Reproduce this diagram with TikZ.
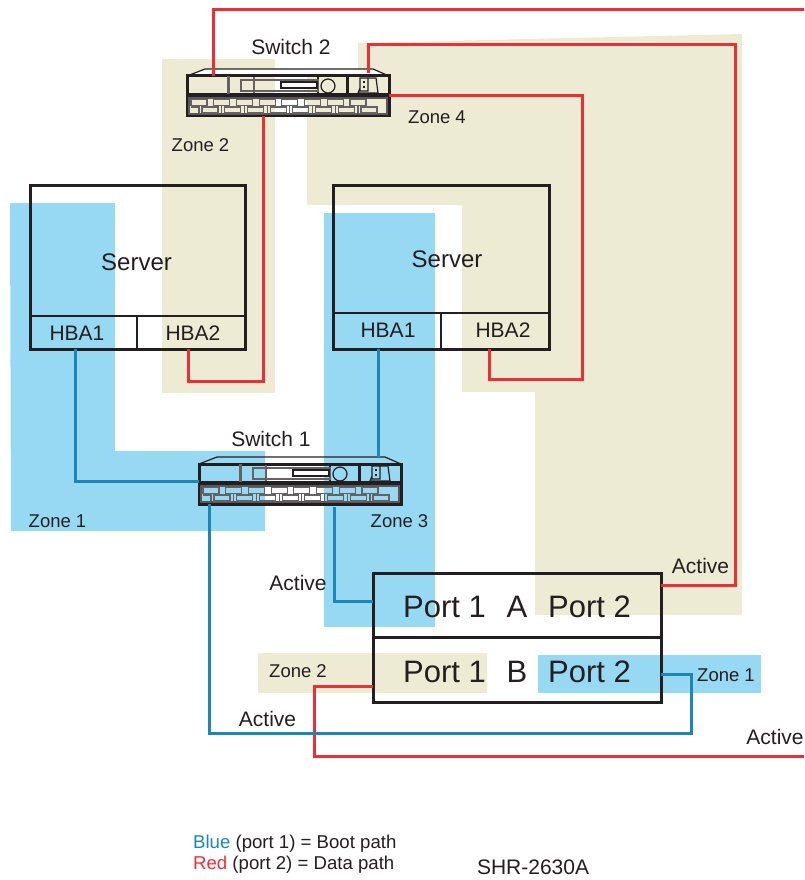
\documentclass[tikz,border=0pt]{standalone}
\usepackage{fontspec}
\setmainfont{Liberation Sans}
\usetikzlibrary{positioning}
\definecolor{zonetan}{HTML}{EEEBD4}
\definecolor{zonesky}{HTML}{97D9F2}
\definecolor{wirered}{HTML}{EE2E36}
\definecolor{wireblue}{HTML}{1C86B9}
\definecolor{inkdark}{HTML}{231F20}

\begin{document}
\begin{tikzpicture}[x=1pt,y=-1pt,color=inkdark,text=inkdark]
\tikzset{lbl/.style ={font=\fontsize{21}{24}\selectfont,inner sep=0pt,outer sep=0pt}}
\tikzset{zonelbl/.style ={font=\fontsize{18.5}{22}\selectfont,inner sep=0pt}}
\tikzset{portlbl/.style ={font=\fontsize{31}{36}\selectfont,inner sep=0pt}}
\tikzset{legendlbl/.style ={font=\fontsize{18.6}{22}\selectfont,inner sep=0pt}}
\tikzset{srvlbl/.style ={font=\fontsize{24}{28}\selectfont,inner sep=0pt}}
\tikzset{hbacell/.style ={lbl,minimum height=32pt}}
\tikzset{frame/.style ={draw,line width=3pt,inner sep=0pt,outer sep=0pt}}
\tikzset{swnode/.style ={inner sep=0pt,outer sep=0pt,minimum width=202pt,minimum height=40pt}}
\tikzset{redwire/.style ={draw=wirered,line width=3pt}}
\tikzset{bluewire/.style ={draw=wireblue,line width=3pt}}
\tikzset{switchbody/.pic={
    \draw[line width=1.2pt] (-101,-20) -- (-83,-27) -- (85,-27) -- (101,-20);
    \draw[line width=3pt] (-101,-20) rectangle (101,20);
    \draw[line width=3.6pt] (-101,-1) -- (101,-1);
    \draw[line width=1.2pt,draw=inkdark!75] (-99,2) rectangle (99,18);
    \draw[line width=3pt,draw=inkdark!70] (-60,-20) -- (-60,-2);
    \draw[line width=3pt] (59,-20) -- (59,-2);
    \draw[line width=2pt] (30,-20) -- (30,-2);
    \draw[line width=1.2pt,draw=inkdark!70] (-34,-19) -- (-34,-3) (-47,-16) rectangle (30,-5);
    \draw[line width=1.6pt,fill=white] (-7,-14) rectangle (29,-8);
    \draw[line width=1.2pt] (40,-10) circle (7);
    \draw[line width=1.2pt] (72,-18) rectangle (80,-5) (80,-18) -- (88,-18) -- (90,-3) -- (70,-3) -- (72,-8);
    \draw[line width=1.2pt] (75,-14) -- (77,-14) (75,-9) -- (77,-9);
    \foreach \i in {0,...,7}{
      \draw[line width=1.2pt,draw=inkdark!70] (-97+22.7*\i,3.5) rectangle +(16,6);
      \draw[line width=1.2pt,draw=inkdark!70] (-86+22.7*\i,11) rectangle +(16,6);
      \draw[line width=1.2pt,draw=inkdark!70] (-89+22.7*\i,9.5) -- +(0,7.5) (-84.5+22.7*\i,9.5) -- +(0,1.5);
    }
    \draw[line width=1.2pt,draw=inkdark!70] (-97,11) -- (-89,11);
  }}
\useasboundingbox (0,0) rectangle (804,880);
% zones
\fill[zonetan] (162,59) rectangle (275,393);
\fill[zonetan] (358,43) -- (742,34) -- (742,615) -- (535,615) -- (535,392) -- (462,392) -- (462,205) -- (307,205) -- (307,76) -- (358,76) -- cycle;
\fill[zonesky] (10,203) -- (115,203) -- (115,451) -- (265,451) -- (265,531) -- (11,531) -- cycle;
\fill[zonesky] (324,213) rectangle (435,627);
\fill[zonetan] (258,653) rectangle (487,693);
\fill[zonesky] (538,655) rectangle (761,693);
\fill[white] (205,69) -- (373,69) -- (389,76) -- (187,76) -- cycle;
% servers
\node[frame,minimum width=215pt,minimum height=164pt] (srva) at (137.5,267) {};
\node[frame,minimum width=216pt,minimum height=164pt] (srvb) at (441,267) {};
\node[srvlbl] (srvatxt) at (136.5,262) {Server};
\node[srvlbl] (srvbtxt) at (447,259) {Server};
\draw[line width=1.2pt] (30,316) -- (245,316) (137,316) -- (137,349);
\draw[line width=1.2pt] (333,313) -- (549,313);
\draw[line width=2.4pt] (441,313) -- (441,349);
\node[hbacell] (hbaa) at (77,333) {HBA1};
\node[hbacell] (hbab) at (193,333) {HBA2};
\node[hbacell,minimum height=38pt] (hbac) at (388,330) {HBA1};
\node[hbacell,minimum height=38pt] (hbad) at (503,330) {HBA2};
% switches
\node[swnode] (swb) at (288,96) {};
\pic at (swb.center) {switchbody};
\node[swnode] (swa) at (300,484) {};
\pic at (swa.center) {switchbody};
\node[lbl] (swblbl) at (291,47) {Switch 2};
\node[lbl] (swalbl) at (271,439) {Switch 1};
% controller
\node[frame,minimum width=288pt,minimum height=64pt] (rowa) at (517,605) {};
\node[frame,minimum width=288pt,minimum height=65pt] (rowb) at (517,669.5) {};
\node[portlbl] (pa1) at (444.5,607) {Port 1};
\node[portlbl] (ctla) at (517,607) {A};
\node[portlbl] (pa2) at (589.5,607) {Port 2};
\node[portlbl] (pb1) at (444.5,672) {Port 1};
\node[portlbl] (ctlb) at (517,672) {B};
\node[portlbl] (pb2) at (589.5,672) {Port 2};
% red paths
\coordinate (outa) at (804,10);
\coordinate (outb) at (804,756);
\draw[redwire] ([xshift=-75pt]swb.north) -- (213,10) -- (outa);
\draw[redwire] ([xshift=80pt,yshift=3pt]swb.north) -- (368,45) -- (735,45) -- (735,585) -- ([yshift=20pt]rowa.east);
\draw[redwire] (swb.east) -- (582,96) -- (582,379) -- (489,379) -- ([xshift=-14pt]hbad.south);
\draw[redwire] ([xshift=-25pt]swb.south) -- (263,381) -- (188,381) -- ([xshift=-5pt]hbab.south);
\draw[redwire] ([yshift=-16.5pt]rowb.west) -- (314,686) -- (314,756) -- (outb);
% blue paths
\draw[bluewire] ([xshift=-2pt]hbaa.south) -- (75,481) -- ([yshift=3pt]swa.west);
\draw[bluewire] ([xshift=-10pt]hbac.south) -- ([xshift=78pt,yshift=7pt]swa.north);
\draw[bluewire] ([xshift=34pt,yshift=-3pt]swa.south) -- (334,601) -- ([yshift=4pt]rowa.west);
\draw[bluewire] ([xshift=-91pt]swa.south) -- (209,733) -- (691,733) -- (691,674) -- ([yshift=-4.5pt]rowb.east);
% labels
\node[zonelbl] (zna) at (57.5,521) {Zone 1};
\node[zonelbl] (znb) at (200.5,145) {Zone 2};
\node[zonelbl] (znc) at (399.5,521) {Zone 3};
\node[zonelbl] (znd) at (437,117) {Zone 4};
\node[zonelbl] (zne) at (298,671) {Zone 2};
\node[zonelbl] (znf) at (726,675) {Zone 1};
\node[lbl] (acta) at (298,583) {Active};
\node[lbl] (actb) at (700.5,566) {Active};
\node[lbl] (actc) at (267.5,719) {Active};
\node[lbl] (actd) at (775,737) {Active};
\node[legendlbl,anchor=west] (lgnda) at (193,844) {\textcolor{wireblue}{Blue} (port 1) = Boot path};
\node[legendlbl,anchor=west] (lgndb) at (193,865) {\textcolor{wirered}{Red} (port 2) = Data path};
\node[lbl,anchor=west] (refno) at (477,867) {SHR-2630A};
\end{tikzpicture}
\end{document}
